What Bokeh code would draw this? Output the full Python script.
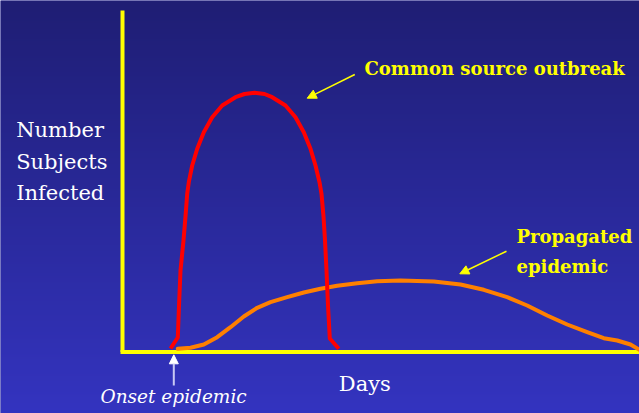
import numpy as np
from bokeh.plotting import figure
from bokeh.models import Range1d, Arrow, NormalHead
from bokeh.core.properties import value
from bokeh.embed import file_html
from bokeh.resources import INLINE

# ---- data (days, number infected) ----
red_days = [4.8, 5.53, 5.65, 5.8, 6.1, 6.3, 6.47, 6.63, 6.97, 7.47, 8.13, 8.97, 9.97,
            11.3, 12.2, 13.2, 14.2, 14.97, 16.3, 17.3, 18.13, 18.8, 19.3, 19.7, 19.9,
            20.1, 20.25, 20.4, 20.55, 20.73, 21.63]
red_counts = [0.35, 1.45, 4.65, 8.15, 11.15, 13.55, 15.82, 16.98, 18.65, 20.32, 21.98,
              23.48, 24.65, 25.48, 25.8, 25.92, 25.8, 25.48, 24.65, 23.48, 21.98, 20.32,
              18.65, 16.98, 15.82, 13.55, 11.15, 8.15, 4.65, 1.35, 0.32]
orange_days = [5.53, 6.8, 8.13, 9.47, 10.8, 12.13, 13.47, 14.8, 16.47, 18.13, 19.8,
               21.47, 23.47, 25.47, 27.8, 31.13, 33.8, 36.13, 38.47, 40.47, 42.47,
               44.47, 46.47, 48.13, 49.47, 50.8, 51.7]
orange_counts = [0.32, 0.42, 0.75, 1.48, 2.48, 3.55, 4.42, 4.98, 5.48, 5.95, 6.32,
                 6.62, 6.88, 7.08, 7.15, 7.05, 6.75, 6.22, 5.48, 4.65, 3.65, 2.75,
                 1.98, 1.38, 1.15, 0.75, 0.22]

y_label_lines = ["Number", "Subjects", "Infected"]
x_label = "Days"
onset_label = "Onset epidemic"
common_label = "Common source outbreak"
propagated_lines = ["Propagated", "epidemic"]

# ---- layout ----
W, H = 639, 413
X0_PX, Y0_PX, PX_PER = 122.0, 351.5, 10.0
x_left = -X0_PX / PX_PER
x_right = (W - X0_PX) / PX_PER
y_top = Y0_PX / PX_PER
y_bottom = (Y0_PX - H) / PX_PER
DY = 0.95  # baseline correction

p = figure(width=W, height=H, x_range=Range1d(x_left, x_right),
           y_range=Range1d(y_bottom, y_top), output_backend="svg",
           toolbar_location=None, min_border=0)
p.xaxis.visible = False
p.yaxis.visible = False
p.grid.visible = False
p.outline_line_color = None
p.background_fill_color = "#2a2a9a"
p.border_fill_color = "#2a2a9a"

# background gradient (top dark navy -> bottom brighter blue)
n = H
t = np.linspace(0, 1, n)[:, None]
top_c = np.array([31, 30, 116])
bot_c = np.array([52, 52, 192])
cols = bot_c * (1 - t) + top_c * t
img = np.empty((n, 1), dtype=np.uint32)
view = img.view(dtype=np.uint8).reshape((n, 1, 4))
view[..., 0] = cols[:, 0:1].astype(np.uint8)
view[..., 1] = cols[:, 1:2].astype(np.uint8)
view[..., 2] = cols[:, 2:3].astype(np.uint8)
view[..., 3] = 255
p.image_rgba(image=[img], x=x_left, y=y_bottom, dw=x_right - x_left, dh=y_top - y_bottom)

# axes (yellow)
AX = "#ffff00"
p.line([0, 0], [0, 34.15], line_color=AX, line_width=4)
p.line([-0.2, x_right], [0, 0], line_color=AX, line_width=4)

# curves
p.line(orange_days, orange_counts, line_color="#ff8000", line_width=4,
       line_join="round", line_cap="round")
p.line(red_days, red_counts, line_color="#ff0000", line_width=4, line_join="round")

SERIF = value("DejaVu Serif")

p.text(x=[-10.63] * 3, y=[21.22 + DY - 3.14 * i for i in range(3)], text=y_label_lines,
       text_color="white", text_font=SERIF, text_font_size="21px",
       text_baseline="alphabetic", text_align="left")

p.text(x=[21.63], y=[-4.12 + DY], text=[x_label], text_color="white",
       text_font=SERIF, text_font_size="21px",
       text_baseline="alphabetic", text_align="left")

p.text(x=[-2.2], y=[-5.35 + DY], text=[onset_label], text_color="white",
       text_font=SERIF, text_font_size="18.5px", text_font_style="italic",
       text_baseline="alphabetic", text_align="left")

p.text(x=[24.2], y=[27.42 + DY], text=[common_label], text_color=AX,
       text_font=SERIF, text_font_size="18px", text_font_style="bold",
       text_baseline="alphabetic", text_align="left")

p.text(x=[39.4, 39.4], y=[10.58 + DY, 10.58 + DY - 2.93], text=propagated_lines,
       text_color=AX, text_font=SERIF, text_font_size="18px",
       text_font_style="bold", text_baseline="alphabetic", text_align="left")

# arrows
p.add_layout(Arrow(end=NormalHead(size=9, fill_color=AX, line_color=AX),
                   x_start=23.23, y_start=27.75, x_end=18.47, y_end=25.38,
                   line_color=AX, line_width=1.5))
p.add_layout(Arrow(end=NormalHead(size=9, fill_color=AX, line_color=AX),
                   x_start=38.4, y_start=10.08, x_end=33.73, y_end=7.82,
                   line_color=AX, line_width=1.5))
p.add_layout(Arrow(end=NormalHead(size=9, fill_color="white", line_color="white"),
                   x_start=5.13, y_start=-3.35, x_end=5.13, y_end=-0.28,
                   line_color="#c8c8f4", line_width=2))

open("out.html", "w").write(file_html(p, INLINE))
